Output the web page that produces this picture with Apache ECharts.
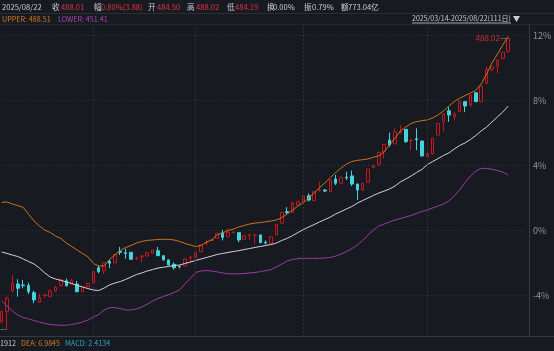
<!DOCTYPE html>
<html>
<head>
<meta charset="utf-8">
<script src="https://cdn.jsdelivr.net/npm/echarts@6.0.0/dist/echarts.min.js"></script>
<style>
  html, body { margin: 0; padding: 0; background: #171b21; }
  #kline { width: 554px; height: 351px; }
</style>
</head>
<body>
<div id="kline"></div>
<script>
// trading days shown (2025)
var dates = [
  '04/08','04/09','04/10','04/11','04/14','04/15','04/16','04/17','04/18','04/21','04/22','04/23','04/24','04/25','04/28','04/29','04/30',
  '05/06','05/07','05/08','05/09','05/12','05/13','05/14','05/15','05/16','05/19','05/20','05/21','05/22','05/23','05/26','05/27','05/28','05/29','05/30',
  '06/03','06/04','06/05','06/06','06/09','06/10','06/11','06/12','06/13','06/16','06/17','06/18','06/19','06/20','06/23','06/24','06/25','06/26','06/27','06/30',
  '07/01','07/02','07/03','07/04','07/07','07/08','07/09','07/10','07/11','07/14','07/15','07/16','07/17','07/18','07/21','07/22','07/23','07/24','07/25','07/28','07/29','07/30','07/31',
  '08/01','08/04','08/05','08/06','08/07','08/08','08/11','08/12','08/13','08/14','08/15','08/18','08/19','08/20','08/21','08/22'
];

// candles, in % change
var openPct = [
  -5.6,-4.98,-3.71,-3.28,-3.34,-3.36,-3.82,-4.41,-3.99,-4.06,
  -3.71,-3.38,-3.08,-3.28,-3.28,-3.75,-3.45,-3.2,-2.28,-2.46,
  -1.9,-1.97,-1.27,-1.35,-1.33,-1.74,-1.6,-1.56,-1.39,-1.23,
  -1.54,-1.8,-2.07,-2.2,-2.17,-1.66,-1.66,-1.29,-0.77,-0.6,
  -0.47,-0.12,-0.37,-0.12,-0.12,-0.53,-0.28,-0.28,-0.26,-0.72,
  -0.78,-0.26,0.46,1.18,1.13,1.58,1.77,2.15,1.85,2.48,
  2.5,2.4,3.18,2.92,3.3,3.37,2.87,2.5,2.98,3.88,
  4.1,4.86,5.58,5.34,6.05,6.24,5.55,5.66,5.52,4.55,
  4.72,5.89,6.71,7.38,7.02,7.32,7.94,7.74,8.49,7.94,
  9.07,9.93,10.14,10.6,11.03
];
var closePct = [
  -4.98,-4.16,-3.24,-3.54,-3.38,-3.75,-4.26,-4.1,-3.95,-3.71,
  -3.48,-3.02,-3.38,-3.08,-3.75,-3.45,-3.24,-2.52,-2.52,-1.97,
  -2.0,-1.45,-1.33,-1.4,-1.76,-1.7,-1.55,-1.35,-1.19,-1.54,
  -1.8,-2.11,-2.28,-2.22,-1.74,-1.62,-1.33,-0.88,-0.72,-0.55,
  -0.16,-0.41,-0.1,-0.08,-0.57,-0.31,-0.25,-0.26,-0.74,-0.76,
  -0.37,0.39,1.13,1.12,1.69,1.78,2.14,1.89,2.4,2.52,
  2.44,3.12,2.92,3.29,3.25,2.87,2.5,2.92,3.78,4.02,
  4.82,5.32,5.27,6.09,6.1,5.48,5.58,5.6,4.6,4.76,
  5.69,6.61,7.18,7.12,7.18,7.94,7.67,8.35,7.94,8.9,
  9.93,10.09,10.5,10.98,11.84
];
var lowPct = [
  -5.7,-6.06,-3.8,-4.06,-3.54,-3.9,-4.47,-4.45,-4.1,-4.1,
  -3.75,-3.42,-3.45,-3.3,-3.8,-3.78,-3.47,-3.22,-2.62,-2.66,
  -2.3,-2.0,-1.5,-1.72,-1.8,-1.8,-1.95,-1.6,-1.4,-1.56,
  -1.83,-2.14,-2.4,-2.32,-2.2,-1.95,-1.68,-1.31,-0.9,-0.62,
  -0.5,-0.6,-0.4,-0.14,-0.72,-0.55,-0.55,-0.8,-0.76,-0.85,
  -0.8,-0.28,0.44,0.98,1.1,1.56,1.75,1.8,1.83,2.4,
  2.38,2.38,2.81,2.9,3.12,2.75,1.9,2.48,2.96,3.86,
  4.0,4.45,5.17,5.32,5.95,5.4,4.95,4.95,4.55,4.53,
  4.7,5.87,6.1,6.7,6.8,7.3,7.3,7.6,7.92,7.92,
  9.05,9.8,9.7,10.58,10.96
];
var highPct = [
  -4.9,-4.05,-2.73,-2.99,-3.03,-3.2,-3.69,-3.9,-3.9,-3.6,
  -3.4,-2.95,-2.95,-2.98,-3.1,-3.42,-3.2,-2.5,-2.15,-1.95,
  -1.75,-1.42,-1.0,-1.1,-1.3,-1.6,-1.5,-1.33,-1.17,-1.0,
  -1.5,-1.78,-1.95,-2.12,-1.72,-1.55,-1.31,-0.86,-0.6,-0.52,
  -0.14,0.05,0.15,-0.04,-0.1,-0.29,-0.24,-0.25,-0.24,-0.6,
  -0.35,0.41,1.15,1.45,1.8,1.8,2.16,2.3,2.42,3.0,
  2.56,3.14,3.43,3.31,3.63,3.7,2.89,2.94,3.8,4.04,
  4.84,5.34,6.03,6.3,6.5,6.26,5.6,6.3,5.54,4.78,
  5.71,6.63,7.2,7.6,7.3,7.96,7.96,8.37,8.51,8.92,
  10.1,10.11,10.52,11.0,11.84
];

// bollinger bands, in %
var upperBand = [
  1.74,1.77,1.64,1.55,1.43,1.00,0.60,0.29,0.04,-0.11,
  -0.33,-0.48,-0.76,-0.97,-1.19,-1.40,-1.60,-2.01,-2.17,-2.17,
  -1.77,-1.50,-1.22,-1.03,-0.91,-0.76,-0.66,-0.60,-0.57,-0.54,
  -0.53,-0.53,-0.57,-0.66,-0.78,-0.88,-0.97,-0.91,-0.70,-0.57,
  -0.26,-0.14,0.01,0.10,0.23,0.32,0.41,0.47,0.50,0.55,
  0.60,0.66,0.81,1.03,1.27,1.52,1.74,2.01,2.32,2.66,
  2.94,3.27,3.58,3.86,4.10,4.26,4.33,4.37,4.42,4.52,
  4.60,4.87,5.27,5.70,6.14,6.38,6.60,6.71,6.77,6.82,
  6.94,7.12,7.37,7.67,7.95,8.15,8.32,8.47,8.64,9.03,
  9.64,10.32,10.86,11.43,11.95
];
var midBand = [
  -1.31,-1.40,-1.50,-1.59,-1.74,-1.90,-2.05,-2.30,-2.60,-2.85,
  -2.97,-3.06,-3.16,-3.25,-3.37,-3.46,-3.56,-3.65,-3.68,-3.53,
  -3.34,-3.22,-3.13,-3.00,-2.85,-2.70,-2.60,-2.48,-2.39,-2.30,
  -2.25,-2.20,-2.14,-2.11,-2.02,-1.93,-1.83,-1.74,-1.65,-1.56,
  -1.46,-1.40,-1.34,-1.28,-1.23,-1.16,-1.10,-1.03,-0.97,-0.91,
  -0.85,-0.76,-0.60,-0.47,-0.30,-0.11,0.07,0.23,0.38,0.54,
  0.69,0.84,1.03,1.18,1.34,1.49,1.70,1.86,2.01,2.17,
  2.32,2.44,2.57,2.75,3.00,3.18,3.37,3.58,3.77,4.07,
  4.26,4.44,4.63,4.78,5.03,5.24,5.40,5.61,5.86,6.14,
  6.38,6.69,7.00,7.30,7.67
];
var lowerBand = [
  -4.33,-4.63,-4.94,-5.19,-5.34,-5.43,-5.53,-5.62,-5.71,-5.77,
  -5.80,-5.82,-5.82,-5.77,-5.71,-5.62,-5.50,-5.31,-5.16,-4.88,
  -4.74,-4.73,-4.79,-4.88,-4.88,-4.82,-4.70,-4.52,-4.33,-4.17,
  -4.05,-3.93,-3.80,-3.65,-3.28,-2.94,-2.57,-2.48,-2.45,-2.48,
  -2.54,-2.60,-2.65,-2.66,-2.65,-2.63,-2.60,-2.57,-2.52,-2.46,
  -2.39,-2.23,-2.05,-1.86,-1.77,-1.72,-1.70,-1.70,-1.70,-1.70,
  -1.68,-1.65,-1.56,-1.43,-1.29,-1.10,-0.88,-0.60,-0.26,0.04,
  0.29,0.41,0.54,0.66,0.75,0.84,0.94,1.06,1.18,1.27,
  1.40,1.52,1.64,1.83,2.14,2.50,2.97,3.37,3.67,3.84,
  3.83,3.78,3.70,3.61,3.43
];

var yTicks = [-8, 16, 4];   // min, max, step of the % scale

// header texts
var quoteDate = '2025/08/22';
var quoteLabels = ['收', '幅', '开', '高', '低', '换', '振', '额'];
var quoteValues = ['488.01', '0.80%(3.88)', '484.50', '488.02', '484.19', '0.00%', '0.79%', '773.04亿'];
var bollText = ['UPPER: 488.51', 'LOWER: 451.41'];
var rangeText = '2025/03/14-2025/08/22(111日)';
var macdText = ['1912', 'DEA: 6.9845', 'MACD: 2.4134'];
var highText = '488.02';

var BG = '#171b21';
var RED = '#c8161f';
var CYAN = '#45d2dc';
var FONT = 'Noto Sans CJK SC';

var candles = [];
for (var i = 0; i < dates.length; i++) {
  candles.push([openPct[i], closePct[i], lowPct[i], highPct[i]]);
}
// a little empty room on the right
var cats = dates.concat(['p1', 'p2', 'p3']);

var monthLines = [];
for (var i = 1; i < dates.length; i++) {
  if (dates[i].slice(0, 2) !== dates[i - 1].slice(0, 2)) {
    monthLines.push({ xAxis: i });
  }
}

var lowIdx = 0;
for (var i = 1; i < lowPct.length; i++) {
  if (lowPct[i] < lowPct[lowIdx]) lowIdx = i;
}
var last = dates.length - 1;

// header / footer graphics
var g = [];
g.push({ type: 'rect', shape: { x: 0, y: 0, width: 554, height: 24.5 }, style: { fill: BG }, z: 100 });
g.push({ type: 'line', shape: { x1: 0, y1: 13.5, x2: 554, y2: 13.5 }, style: { stroke: '#2a2e35', lineWidth: 1 }, z: 101 });
g.push({ type: 'line', shape: { x1: 0, y1: 24.5, x2: 554, y2: 24.5 }, style: { stroke: '#252930', lineWidth: 1 }, z: 101 });
g.push({ type: 'rect', shape: { x: 0, y: 336.5, width: 554, height: 15 }, style: { fill: BG }, z: 100 });
g.push({ type: 'line', shape: { x1: 0, y1: 336.5, x2: 554, y2: 336.5 }, style: { stroke: '#363b43', lineWidth: 1 }, z: 101 });

function txt(s, x, y, color, size) {
  g.push({
    type: 'text', x: x, y: y, z: 102,
    style: { text: s, fill: color, fontSize: size, fontFamily: FONT, verticalAlign: 'middle' }
  });
}
txt(quoteDate, 2, 6.8, '#c9ccd2', 7.6);
var labelX = [52, 94, 148, 187, 227, 267, 304, 341];
var valueX = [61, 101, 157, 196, 235, 273, 312, 348];
for (var i = 0; i < quoteLabels.length; i++) {
  txt(quoteLabels[i], labelX[i], 6.8, '#c9ccd2', 7.6);
  txt(quoteValues[i], valueX[i], 6.8, i < 5 ? '#e0333b' : '#c9ccd2', 7.6);
}
txt(bollText[0], 2, 18.8, '#d27a22', 7.2);
txt(bollText[1], 58, 18.8, '#b040b0', 7.2);
txt(rangeText, 412, 18.8, '#c9ccd2', 7.0);
g.push({ type: 'line', shape: { x1: 412, y1: 23, x2: 511, y2: 23 }, style: { stroke: '#c9ccd2', lineWidth: 0.8 }, z: 102 });
g.push({ type: 'polygon', shape: { points: [[513, 16], [520, 16], [516.5, 22]] }, style: { fill: '#c9ccd2' }, z: 102 });
txt(macdText[0], 0, 343.5, '#c9ccd2', 7.2);
txt(macdText[1], 21, 343.5, '#d27a22', 7.2);
txt(macdText[2], 65, 343.5, '#2ea3c4', 7.2);

var chart = echarts.init(document.getElementById('kline'), null, { renderer: 'canvas' });
chart.setOption({
  backgroundColor: BG,
  animation: false,
  textStyle: { fontFamily: FONT },
  grid: { left: -1, width: 528, top: -29.3, height: 390, containLabel: false, outerBoundsMode: 'none' },
  xAxis: {
    type: 'category',
    data: cats,
    boundaryGap: true,
    axisLine: { show: false },
    axisTick: { show: false },
    axisLabel: { show: false },
    splitLine: { show: false }
  },
  yAxis: {
    type: 'value',
    position: 'right',
    offset: 2,
    min: yTicks[0],
    max: yTicks[1],
    interval: yTicks[2],
    axisLine: { show: true, lineStyle: { color: '#363b43' } },
    axisTick: { show: false },
    axisLabel: { color: '#8d929a', fontSize: 9, margin: 4, formatter: function (v) { return v + '%'; } },
    splitLine: { show: true, lineStyle: { color: '#30353d', type: [1, 2] } }
  },
  graphic: g,
  series: [
    {
      type: 'candlestick',
      data: candles,
      barWidth: 3,
      itemStyle: {
        color: 'transparent',
        color0: CYAN,
        borderColor: RED,
        borderColor0: CYAN,
        borderWidth: 1
      },
      markLine: {
        silent: true,
        symbol: 'none',
        label: { show: false },
        lineStyle: { color: '#30353d', type: [2, 2], width: 1 },
        data: monthLines
      },
      markPoint: {
        silent: true,
        symbol: 'circle',
        symbolSize: 0,
        data: [
          {
            coord: [dates[last], highPct[last]],
            label: {
              show: true, position: 'left', distance: 1,
              formatter: '{v|' + highText + '}{l|—}',
              rich: {
                v: { color: '#d42a30', fontSize: 8, fontFamily: FONT },
                l: { color: '#9aa0a8', fontSize: 8, fontFamily: FONT }
              }
            }
          },
          {
            coord: [dates[lowIdx], lowPct[lowIdx]],
            label: {
              show: true, position: 'left', distance: 0,
              formatter: '{l|—}',
              rich: { l: { color: '#9aa0a8', fontSize: 8, fontFamily: FONT } }
            }
          }
        ]
      }
    },
    {
      type: 'line', data: upperBand, symbol: 'none', silent: true,
      lineStyle: { color: '#c8721c', width: 1 }
    },
    {
      type: 'line', data: midBand, symbol: 'none', silent: true,
      lineStyle: { color: '#d2d2d2', width: 1 }
    },
    {
      type: 'line', data: lowerBand, symbol: 'none', silent: true,
      lineStyle: { color: '#9a3aa6', width: 1 }
    }
  ]
});
</script>
</body>
</html>
